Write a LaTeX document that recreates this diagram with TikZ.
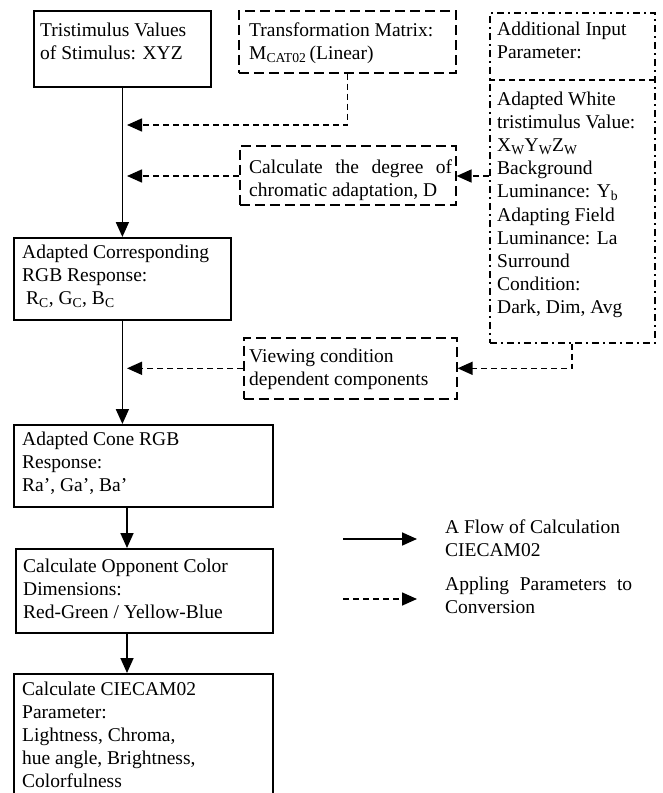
\documentclass[tikz,border=0pt]{standalone}
\usepackage{fontspec}
\setmainfont{Liberation Serif}
\usetikzlibrary{arrows.meta}
\begin{document}
\begin{tikzpicture}[x=1pt,y=-1pt,
  solidbox/.style={draw, line width=1.8pt, rectangle, inner sep=0pt, anchor=north west},
  dashbox/.style={draw, line width=1.6pt, dash pattern=on 10pt off 5pt, rectangle, inner sep=0pt, anchor=north west},
  dotbox/.style={draw, line width=1.5pt, dash pattern=on 7pt off 4pt on 2pt off 4pt, rectangle, inner sep=0pt, anchor=north west},
  txt/.style={anchor=base west, inner sep=0pt, font=\fontsize{19.5}{23.2}\selectfont},
  flow/.style={line width=1.7pt, -{Triangle[length=15pt,width=13pt]}},
  param/.style={line width=1.6pt, dash pattern=on 6pt off 4pt, -{Triangle[length=15pt,width=13pt]}},
]
\useasboundingbox (0,0) rectangle (662,793);
\clip (0,0) rectangle (662,793);
\fill[white] (0,0) rectangle (662,793);

% boxes
\node[solidbox, minimum width=177pt, minimum height=76pt] (box1) at (33,10) {};
\node[dashbox, minimum width=217pt, minimum height=62pt] (box2) at (238,10) {};
\node[dotbox, minimum width=165pt, minimum height=330pt] (box3) at (489,12) {};
\node[dashbox, minimum width=216pt, minimum height=59pt] (calc) at (239,145) {};
\node[solidbox, minimum width=217pt, minimum height=82pt] (box4) at (13,237) {};
\node[dashbox, minimum width=213pt, minimum height=61pt] (view) at (243,337) {};
\node[solidbox, minimum width=259pt, minimum height=82pt] (box5) at (13,424) {};
\node[solidbox, minimum width=257pt, minimum height=84pt] (box6) at (15,548) {};
\node[solidbox, minimum width=259pt, minimum height=140pt] (box7) at (13,673) {};

% divider in box3
\coordinate (ydiv) at (0,80);
\draw[line width=1.5pt, dash pattern=on 6pt off 4pt] (box3.west |- ydiv) -- (box3.east |- ydiv);

% texts
\newcommand{\tb}[2]{\parbox[t]{#1}{\raggedright\lineskiplimit=-30pt #2}}
\node[txt] (t1) at (40,36) {\tb{170pt}{Tristimulus Values\\of Stimulus: XYZ}};
\node[txt] (t2) at (249,36) {\tb{205pt}{Transformation Matrix:\\M\textsubscript{CAT02}\,(Linear)}};
\node[txt] (t3) at (497,35) {\tb{155pt}{Additional Input\\Parameter:}};
\node[txt] (t3b) at (497,105) {\tb{155pt}{Adapted White\\tristimulus Value:\\X\textsubscript{W}Y\textsubscript{W}Z\textsubscript{W}\\Background\\Luminance: Y\textsubscript{b}\\Adapting Field\\Luminance: La\\Surround\\Condition:\\Dark, Dim, Avg}};
\node[txt] (tc) at (249,173) {\tb{210pt}{\makebox[203pt][s]{Calculate the degree of}\\chromatic adaptation, D}};
\node[txt] (t4) at (22,258) {\tb{210pt}{Adapted Corresponding\\RGB Response:\\\hspace*{4pt}R\textsubscript{C}, G\textsubscript{C}, B\textsubscript{C}}};
\node[txt] (tv) at (249,362) {\tb{205pt}{Viewing condition\\dependent components}};
\node[txt] (t5) at (22,445) {\tb{245pt}{Adapted Cone RGB\\Response:\\Ra’, Ga’, Ba’}};
\node[txt] (t6) at (23,572) {\tb{245pt}{Calculate Opponent Color\\Dimensions:\\Red-Green / Yellow-Blue}};
\node[txt] (t7) at (22,695) {\tb{245pt}{Calculate CIECAM02\\Parameter:\\Lightness, Chroma,\\hue angle, Brightness,\\Colorfulness}};
\node[txt] (l1) at (445,533) {\tb{210pt}{A Flow of Calculation\\CIECAM02}};
\node[txt] (l2) at (445,590) {\tb{210pt}{\makebox[187pt][s]{Appling Parameters to}\\Conversion}};

% main flow
\coordinate (mx2) at (127,0);
\draw[flow] (box1.south) -- (box4.north);
\draw[flow] (box4.south) -- (box4.south |- box5.north);
\draw[flow] (box5.south -| mx2) -- (box6.north -| mx2);
\draw[flow] (box6.south -| mx2) -- (box7.north -| mx2);

% parameter connectors
\coordinate (p1) at (127,125);
\draw[param] (box2.south) |- (p1);
\coordinate (y176) at (0,176);
\draw[param] (box3.west |- y176) -- (calc.east |- y176);
\draw[param] (calc.west |- y176) -- (mx2 |- y176);
\coordinate (b3) at (572,0);
\draw[param] (box3.south -| b3) |- (view.east);
\draw[param] (view.west) -- (view.west -| mx2);

% legend
\coordinate (l1a) at (343,539);
\coordinate (l1b) at (417,539);
\coordinate (l2a) at (343,599);
\coordinate (l2b) at (417,599);
\draw[flow] (l1a) -- (l1b);
\draw[param] (l2a) -- (l2b);
\end{tikzpicture}
\end{document}
